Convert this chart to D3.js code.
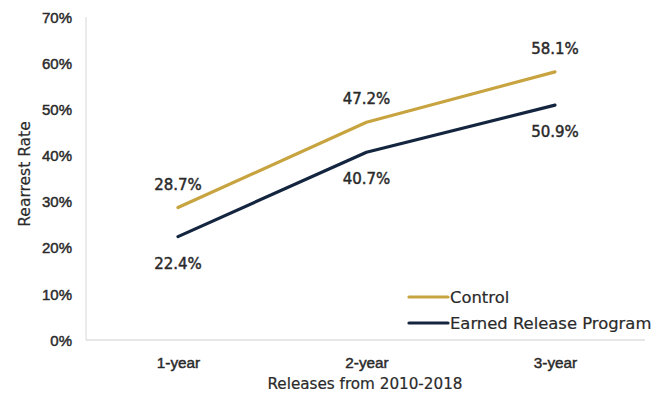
<!DOCTYPE html>
<html>
<head>
<meta charset="utf-8">
<script src="https://cdn.jsdelivr.net/npm/d3@7/dist/d3.min.js"></script>
<style>
  html, body { margin: 0; padding: 0; background: #fff; }
  svg { display: block; font-family: "DejaVu Sans", "Noto Sans", sans-serif; }
  .semi { stroke: #2a2a2a; stroke-width: 0.45px; paint-order: stroke; }
  .med { stroke: #2a2a2a; stroke-width: 0.2px; paint-order: stroke; }
</style>
</head>
<body>
<svg id="chart" width="663" height="395"></svg>
<script>
// Rearrest rates by follow-up period
const categories = ["1-year", "2-year", "3-year"];
const controlValues = [28.7, 47.2, 58.1];
const erpValues = [22.4, 40.7, 50.9];
const seriesNames = ["Control", "Earned Release Program"];
const yTicks = [0, 10, 20, 30, 40, 50, 60, 70];

const series = [
  { name: seriesNames[0], values: controlValues, color: "#C8A440", labelDy: -23 },
  { name: seriesNames[1], values: erpValues, color: "#14253F", labelDy: 27 }
];

const svg = d3.select("#chart");
const textColor = "#2a2a2a";

const y = d3.scaleLinear().domain([0, 70]).range([340, 17]);
const x = d3.scalePoint().domain(categories).range([178, 555]);

// axis frame
svg.append("line")
  .attr("x1", 86).attr("x2", 86)
  .attr("y1", y(70)).attr("y2", y(0))
  .attr("stroke", "#d8d8d8").attr("stroke-width", 1);
svg.append("line")
  .attr("x1", 86).attr("x2", 645)
  .attr("y1", y(0)).attr("y2", y(0))
  .attr("stroke", "#cfcfcf").attr("stroke-width", 1.2);

// y axis labels
const yAxis = d3.axisLeft(y).tickValues(yTicks).tickFormat(d => d + "%").tickSize(0).tickPadding(0);
const yg = svg.append("g").attr("transform", "translate(72,0)").call(yAxis);
yg.select(".domain").remove();
yg.selectAll("text")
  .attr("class", "semi")
  .attr("fill", textColor)
  .style("font-size", "15px")
  .attr("dy", "0.35em");

// x axis labels
const xAxis = d3.axisBottom(x).tickSize(0).tickPadding(0);
const xg = svg.append("g").attr("transform", "translate(0,363)").call(xAxis);
xg.select(".domain").remove();
xg.selectAll("text")
  .attr("class", "semi")
  .attr("fill", textColor)
  .style("font-size", "15.3px")
  .attr("dy", "0.35em");

// axis titles
svg.append("text")
  .attr("class", "med")
  .attr("transform", "translate(25,174) rotate(-90)")
  .attr("text-anchor", "middle").attr("dy", "0.35em")
  .attr("fill", textColor)
  .style("font-size", "15.5px")
  .text("Rearrest Rate");
svg.append("text")
  .attr("class", "med")
  .attr("x", 365).attr("y", 384)
  .attr("text-anchor", "middle").attr("dy", "0.35em")
  .attr("fill", textColor)
  .style("font-size", "15.2px")
  .text("Releases from 2010-2018");

// lines
const line = d3.line()
  .x((d, i) => x(categories[i]))
  .y(d => y(d));

series.forEach(s => {
  svg.append("path")
    .datum(s.values)
    .attr("d", line)
    .attr("fill", "none")
    .attr("stroke", s.color)
    .attr("stroke-width", 3.2)
    .attr("stroke-linecap", "round")
    .attr("stroke-linejoin", "round");

  svg.append("g").selectAll("text")
    .data(s.values)
    .join("text")
    .attr("class", "semi")
    .attr("x", (d, i) => x(categories[i]))
    .attr("y", d => y(d) + s.labelDy)
    .attr("text-anchor", "middle")
    .attr("dy", "0.35em")
    .attr("fill", textColor)
    .style("font-size", "15px")
    .text(d => d.toFixed(1) + "%");
});

// legend
const legend = svg.append("g");
series.forEach((s, i) => {
  const ly = 297 + i * 26;
  legend.append("line")
    .attr("x1", 409).attr("x2", 448)
    .attr("y1", ly).attr("y2", ly)
    .attr("stroke", s.color).attr("stroke-width", 3.2)
    .attr("stroke-linecap", "round");
  legend.append("text")
    .attr("class", "med")
    .attr("x", 450).attr("y", ly)
    .attr("dy", "0.35em")
    .attr("fill", textColor)
    .style("font-size", "16.4px")
    .text(s.name);
});
</script>
</body>
</html>
